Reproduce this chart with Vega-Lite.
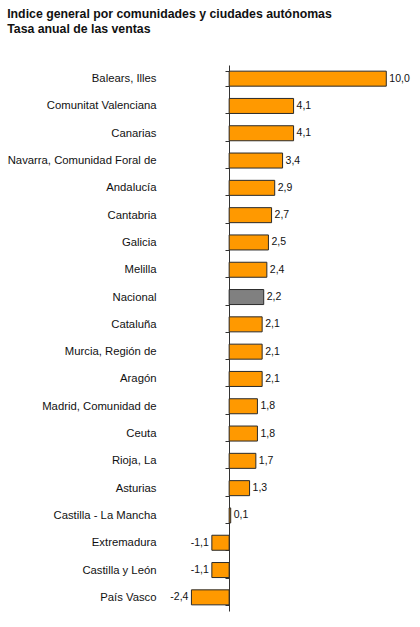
{
  "$schema": "https://vega.github.io/schema/vega-lite/v6.json",
  "width": 220,
  "height": 546,
  "autosize": "none",
  "padding": {"left": 182, "top": 65, "right": 18, "bottom": 16},
  "background": "white",
  "title": {
    "text": ["Indice general por comunidades y ciudades autónomas", "Tasa anual de las ventas"],
    "anchor": "start",
    "frame": "bounds",
    "dx": 0,
    "font": "Liberation Sans",
    "fontSize": 12.3,
    "fontWeight": "bold",
    "color": "#111",
    "lineHeight": 15,
    "offset": 24
  },
  "config": {
    "view": {"stroke": null},
    "locale": {"number": {"decimal": ",", "thousands": ".", "grouping": [3], "currency": ["", " €"], "minus": "-"}}
  },
  "data": {
    "values": [
      {"region": "Balears, Illes", "rate": 10.0, "kind": "ccaa"},
      {"region": "Comunitat Valenciana", "rate": 4.1, "kind": "ccaa"},
      {"region": "Canarias", "rate": 4.1, "kind": "ccaa"},
      {"region": "Navarra, Comunidad Foral de", "rate": 3.4, "kind": "ccaa"},
      {"region": "Andalucía", "rate": 2.9, "kind": "ccaa"},
      {"region": "Cantabria", "rate": 2.7, "kind": "ccaa"},
      {"region": "Galicia", "rate": 2.5, "kind": "ccaa"},
      {"region": "Melilla", "rate": 2.4, "kind": "ccaa"},
      {"region": "Nacional", "rate": 2.2, "kind": "nacional"},
      {"region": "Cataluña", "rate": 2.1, "kind": "ccaa"},
      {"region": "Murcia, Región de", "rate": 2.1, "kind": "ccaa"},
      {"region": "Aragón", "rate": 2.1, "kind": "ccaa"},
      {"region": "Madrid, Comunidad de", "rate": 1.8, "kind": "ccaa"},
      {"region": "Ceuta", "rate": 1.8, "kind": "ccaa"},
      {"region": "Rioja, La", "rate": 1.7, "kind": "ccaa"},
      {"region": "Asturias", "rate": 1.3, "kind": "ccaa"},
      {"region": "Castilla - La Mancha", "rate": 0.1, "kind": "ccaa"},
      {"region": "Extremadura", "rate": -1.1, "kind": "ccaa"},
      {"region": "Castilla y León", "rate": -1.1, "kind": "ccaa"},
      {"region": "País Vasco", "rate": -2.4, "kind": "ccaa"}
    ]
  },
  "encoding": {
    "y": {
      "field": "region",
      "type": "nominal",
      "sort": null,
      "title": null,
      "scale": {"paddingInner": 0.45, "paddingOuter": 0.225},
      "axis": {
        "orient": "left",
        "offset": -47,
        "tickBand": "extent",
        "tickSize": 4,
        "tickColor": "#333",
        "domainColor": "#333",
        "labelPadding": 69,
        "labelFont": "Liberation Sans",
        "labelFontSize": 11.3,
        "labelColor": "#111",
        "labelLimit": 200
      }
    },
    "x": {
      "field": "rate",
      "type": "quantitative",
      "scale": {"domain": [-3, 11], "nice": false},
      "axis": null
    }
  },
  "layer": [
    {
      "mark": {"type": "bar", "stroke": "#2a2a2a", "strokeWidth": 1},
      "encoding": {
        "color": {
          "field": "kind",
          "type": "nominal",
          "scale": {"domain": ["ccaa", "nacional"], "range": ["#FF9900", "#808080"]},
          "legend": null
        }
      }
    },
    {
      "transform": [{"filter": "datum.rate >= 0"}],
      "mark": {"type": "text", "align": "left", "dx": 3, "font": "Liberation Sans", "fontSize": 10.5, "color": "#111"},
      "encoding": {"text": {"field": "rate", "type": "quantitative", "format": ".1f"}}
    },
    {
      "transform": [{"filter": "datum.rate < 0"}],
      "mark": {"type": "text", "align": "right", "dx": -3, "font": "Liberation Sans", "fontSize": 10.5, "color": "#111"},
      "encoding": {"text": {"field": "rate", "type": "quantitative", "format": ".1f"}}
    }
  ]
}
